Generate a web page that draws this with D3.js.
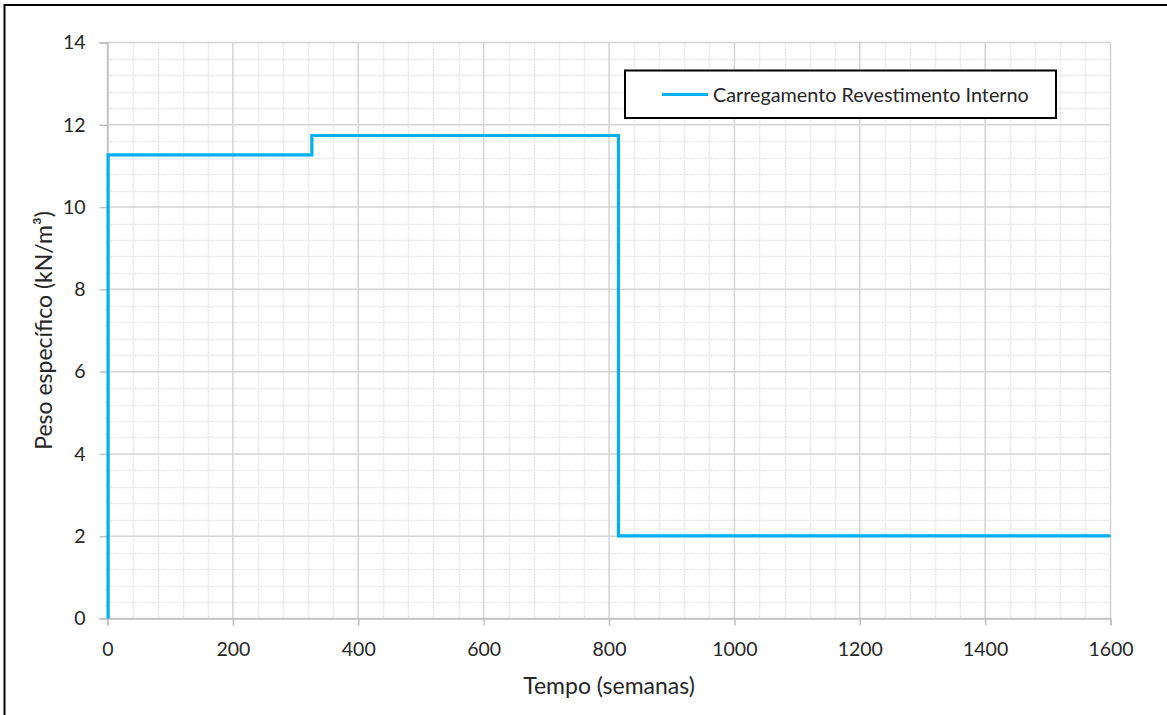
<!DOCTYPE html>
<html>
<head>
<meta charset="utf-8">
<script src="https://cdn.jsdelivr.net/npm/d3@7"></script>
<style>
  html, body { margin: 0; padding: 0; background: #fff; }
  svg { display: block; }
  text { font-family: Lato, "Open Sans", sans-serif; fill: #262626; }
</style>
</head>
<body>
<svg id="chart" width="1167" height="715"></svg>
<script>
// ---- data ----
const timeWeeks   = [1, 1, 326, 326, 815, 815, 1600];
const unitWeight  = [0, 11.27, 11.27, 11.74, 11.74, 2.01, 2.01];
const seriesName  = "Carregamento Revestimento Interno";
const xTicks      = [0, 200, 400, 600, 800, 1000, 1200, 1400, 1600];
const yTicks      = [0, 2, 4, 6, 8, 10, 12, 14];
const xTitle      = "Tempo (semanas)";
const yTitle      = "Peso específico (kN/m³)";

(function () {
const svg = d3.select("#chart");
const W = 1167, H = 715;
const pL = 107.5, pR = 1110.5, pT = 42.5, pB = 618.5;

const x = d3.scaleLinear().domain([0, 1600]).range([pL, pR]);
const y = d3.scaleLinear().domain([0, 14]).range([pB, pT]);

// outer chart border (extends past viewport on right/bottom)
svg.append("rect")
  .attr("x", 4.5).attr("y", 5)
  .attr("width", W + 20).attr("height", H + 20)
  .attr("fill", "#fff").attr("stroke", "#000").attr("stroke-width", 2);

// minor gridlines
const xMinor = d3.range(0, 1601, 40).filter(v => !xTicks.includes(v));
const yMinor = d3.range(0, 14.001, 0.4).map(v => +v.toFixed(2)).filter(v => !yTicks.includes(v));
const grid = svg.append("g");
grid.selectAll(".xm").data(xMinor).enter().append("line")
  .attr("x1", d => Math.round(x(d)) + 0.5).attr("x2", d => Math.round(x(d)) + 0.5)
  .attr("y1", pT).attr("y2", pB)
  .attr("stroke", "#e6e6e6").attr("stroke-width", 1.5).attr("stroke-dasharray", "2,1");
grid.selectAll(".ym").data(yMinor).enter().append("line")
  .attr("y1", d => Math.round(y(d)) + 0.5).attr("y2", d => Math.round(y(d)) + 0.5)
  .attr("x1", pL).attr("x2", pR)
  .attr("stroke", "#e6e6e6").attr("stroke-width", 1.5).attr("stroke-dasharray", "2,1");

// major gridlines
grid.selectAll(".xM").data(xTicks).enter().append("line")
  .attr("x1", d => x(d)).attr("x2", d => x(d))
  .attr("y1", pT).attr("y2", pB)
  .attr("stroke", "#d4d4d4").attr("stroke-width", 1.5);
grid.selectAll(".yM").data(yTicks).enter().append("line")
  .attr("y1", d => y(d)).attr("y2", d => y(d))
  .attr("x1", pL).attr("x2", pR)
  .attr("stroke", "#d4d4d4").attr("stroke-width", 1.5);

// axes
const xAxis = svg.append("g").attr("transform", `translate(0,${pB})`)
  .call(d3.axisBottom(x).tickValues(xTicks).tickSize(7).tickPadding(17).tickFormat(d3.format("d")));
const yAxis = svg.append("g").attr("transform", `translate(${pL},0)`)
  .call(d3.axisLeft(y).tickValues(yTicks).tickSize(8).tickPadding(14).tickFormat(d3.format("d")));
[xAxis, yAxis].forEach(a => {
  a.select(".domain").attr("stroke", "#bfbfbf").attr("stroke-width", 1.5);
  a.selectAll(".tick line").attr("stroke", "#bfbfbf").attr("stroke-width", 1.5);
  a.selectAll(".tick text").style("font-family", "Lato, sans-serif").style("font-size", "19.5px").attr("fill", "#262626");
});

// series line
const line = d3.line().x(d => x(d[0])).y(d => y(d[1]));
svg.append("path")
  .datum(timeWeeks.map((t, i) => [t, unitWeight[i]]))
  .attr("d", line)
  .attr("fill", "none")
  .attr("stroke", "#00b0f0")
  .attr("stroke-width", 3.2);

// axis titles
svg.append("text")
  .attr("x", (pL + pR) / 2).attr("y", 694)
  .attr("text-anchor", "middle")
  .style("font-size", "23px")
  .text(xTitle);
svg.append("text")
  .attr("transform", `translate(52,${(pT + pB) / 2}) rotate(-90)`)
  .attr("text-anchor", "middle")
  .style("font-size", "23px")
  .text(yTitle);

// legend
const lg = svg.append("g");
lg.append("rect")
  .attr("x", 625).attr("y", 70.5).attr("width", 431).attr("height", 47.5)
  .attr("fill", "#fff").attr("stroke", "#000").attr("stroke-width", 2);
lg.append("line")
  .attr("x1", 662).attr("x2", 708).attr("y1", 94.5).attr("y2", 94.5)
  .attr("stroke", "#00b0f0").attr("stroke-width", 3.2);
lg.append("text")
  .attr("x", 713).attr("y", 101.5)
  .style("font-size", "19.8px")
  .text(seriesName);
})();
</script>
</body>
</html>
